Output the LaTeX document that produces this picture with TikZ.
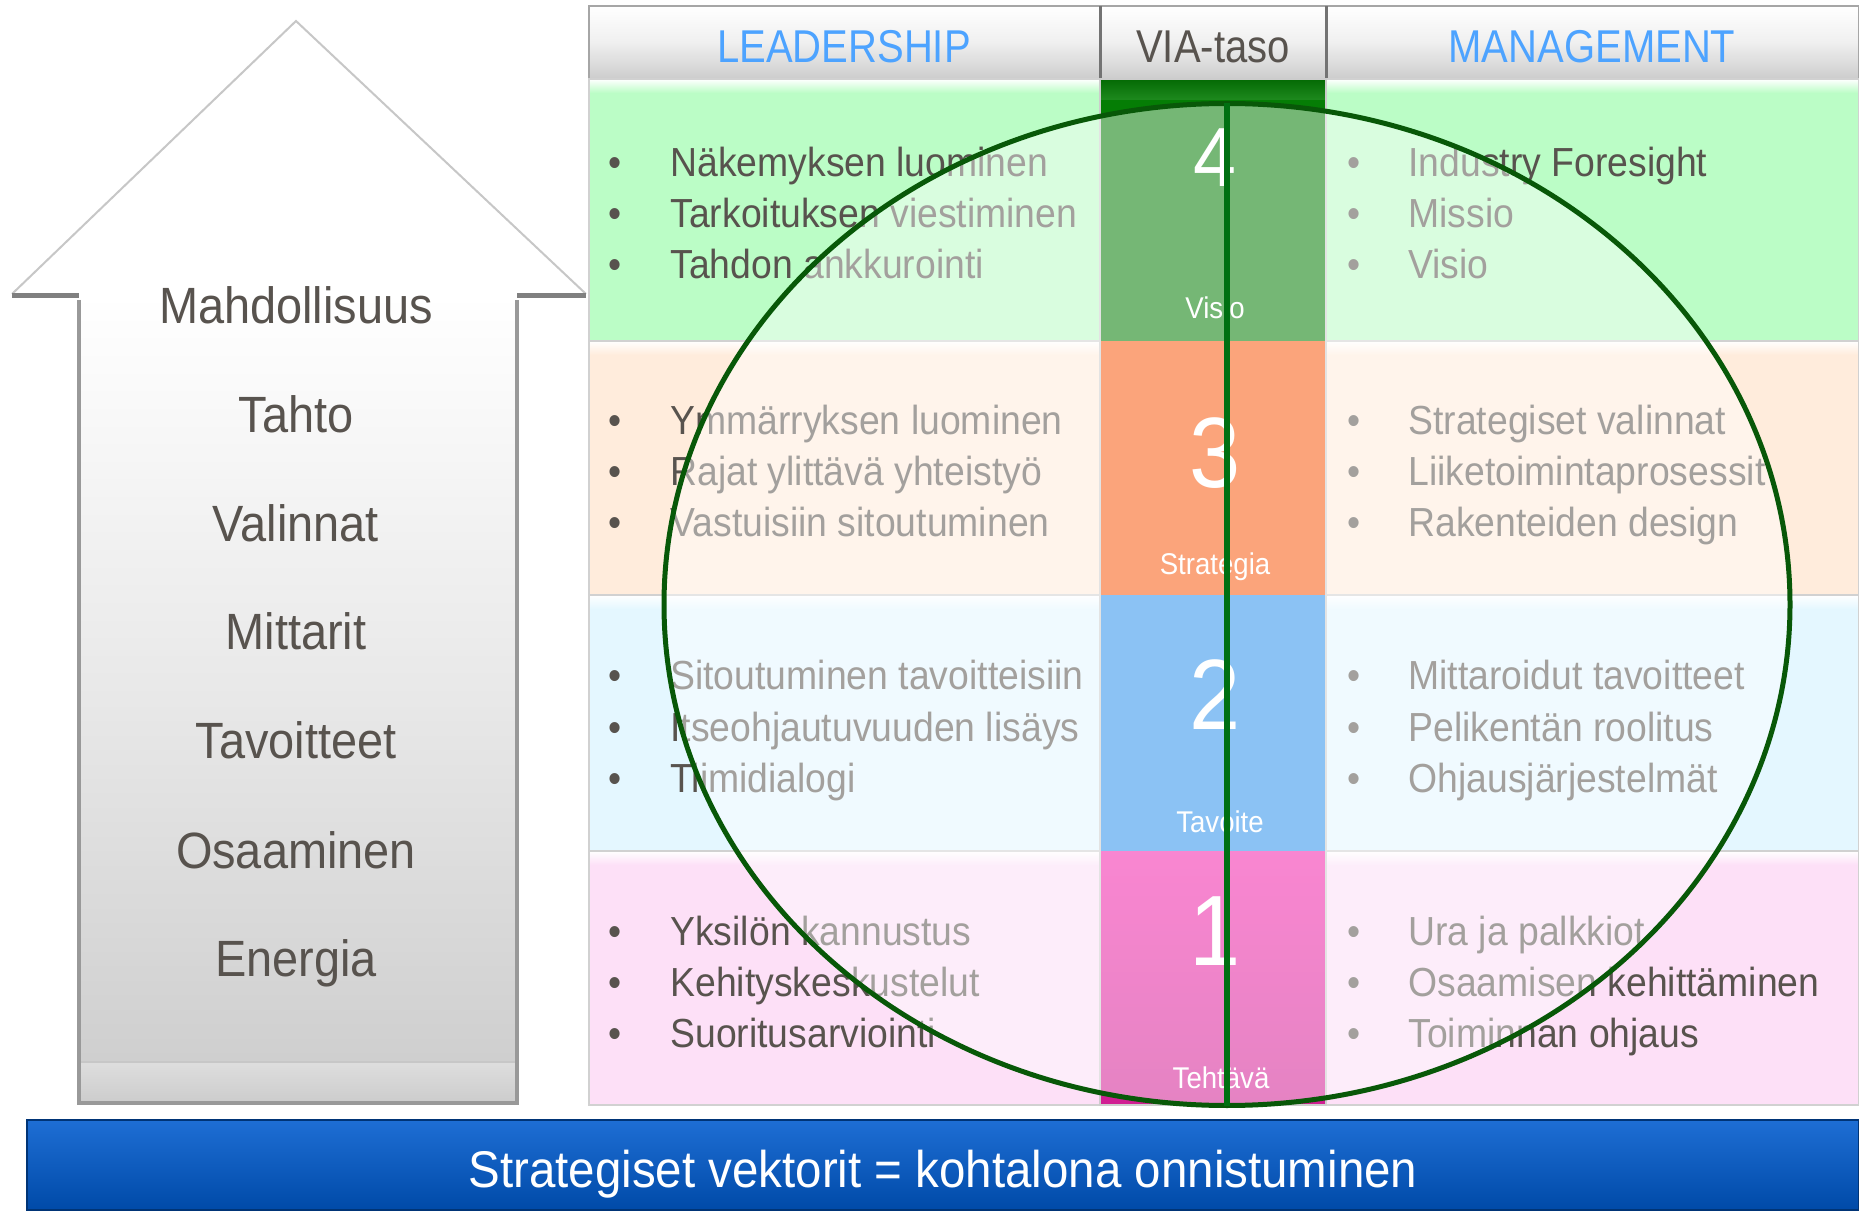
\documentclass[tikz,border=0pt]{standalone}
\usepackage{fontspec}
\setmainfont[FakeStretch=0.92]{Liberation Sans}
\newfontfamily\headfont[FakeStretch=0.87]{Liberation Sans}
\usetikzlibrary{shapes.geometric}
\definecolor{txt}{RGB}{88,83,78}
\definecolor{hblue}{RGB}{77,163,255}
\definecolor{cgreen}{RGB}{187,253,198}
\definecolor{corange}{RGB}{255,236,220}
\definecolor{cblue}{RGB}{228,247,255}
\definecolor{cpink}{RGB}{253,224,247}
\definecolor{vgreen}{RGB}{5,125,5}
\definecolor{vorange}{RGB}{248,90,15}
\definecolor{vblue}{RGB}{45,145,235}
\definecolor{vpink}{RGB}{245,35,172}
\definecolor{ellgreen}{RGB}{8,88,8}
\definecolor{linegreen}{RGB}{0,112,18}
\definecolor{barA}{RGB}{30,110,212}
\definecolor{barB}{RGB}{3,82,182}
\definecolor{barC}{RGB}{0,74,168}
\newcommand\drawcell[5]{%
  \fill[#5] (#1,#2) rectangle (#3,#4);
  \shade[top color=white, bottom color=#5] (#1,#2) rectangle (#3,#2+14);
  \draw[black!18, line width=1pt] (#1,#2) rectangle (#3,#4);
}
\tikzset{
  arrowlbl/.style={anchor=base, inner sep=0, text=txt, font=\fontsize{25.5}{30}\selectfont},
  listtxt/.style={anchor=base west, inner sep=0, text=txt, font=\fontsize{20.3}{24}\selectfont},
  bul/.style={anchor=base, inner sep=0, text=txt, font=\fontsize{20.3}{24}\selectfont},
  headtxt/.style={anchor=base, inner sep=0, font=\headfont\fontsize{23}{27}\selectfont},
  digit/.style={anchor=base, inner sep=0, text=white, font=\fontsize{50}{56}\selectfont},
  vialbl/.style={anchor=base, inner sep=0, text=white, font=\fontsize{15}{18}\selectfont},
}
\begin{document}
\begin{tikzpicture}[x=0.5pt,y=-0.5pt]
\useasboundingbox (0,0) rectangle (1859,1213);
\fill[white] (0,0) rectangle (1859,1213);

% ---------- big arrow ----------
\shade[top color=white, bottom color=black!20, middle color=black!9] (79,294) rectangle (517,1103);
\shade[top color=black!13, bottom color=black!20] (79,1062) rectangle (517,1103);
\draw[black!22, line width=1pt] (79,1062) -- (517,1062);
\draw[black!40, line width=2pt] (79,300) -- (79,1103) -- (517,1103) -- (517,300);
\fill[white] (12,294) -- (296,21) -- (586,294) -- cycle;
\draw[black!22, line width=1pt] (12,294) -- (296,21) -- (586,294);
\draw[black!50, line width=2.5pt] (12,296) -- (79,296);
\draw[black!50, line width=2.5pt] (517,296) -- (586,296);

\node[arrowlbl] (a1) at (296,324) {Mahdollisuus};
\node[arrowlbl] (a2) at (296,433) {Tahto};
\node[arrowlbl] (a3) at (296,542) {Valinnat};
\node[arrowlbl] (a4) at (296,650) {Mittarit};
\node[arrowlbl] (a5) at (296,759) {Tavoitteet};
\node[arrowlbl] (a6) at (296,868) {Osaaminen};
\node[arrowlbl] (a7) at (296,976) {Energia};

% ---------- headers ----------
\foreach \xa/\xb in {589/1100, 1100/1326, 1326/1859} {
  \shade[top color=white, bottom color=black!20, middle color=black!6] (\xa,6) rectangle (\xb,79);
  \draw[black!35, line width=1pt] (\xa,6) rectangle (\xb,79);
}
\draw[black!55, line width=1.5pt] (1100,6) -- (1100,79);
\draw[black!55, line width=1.5pt] (1326,6) -- (1326,79);
\node[headtxt, text=hblue] (hL) at (844,63) {LEADERSHIP};
\node[headtxt, text=txt] (hV) at (1213,63) {VIA-taso};
\node[headtxt, text=hblue] (hM) at (1592,63) {MANAGEMENT};

% ---------- cells ----------
\drawcell{589}{79}{1100}{341}{cgreen}
\drawcell{1326}{79}{1859}{341}{cgreen}
\drawcell{589}{341}{1100}{595}{corange}
\drawcell{1326}{341}{1859}{595}{corange}
\drawcell{589}{595}{1100}{851}{cblue}
\drawcell{1326}{595}{1859}{851}{cblue}
\drawcell{589}{851}{1100}{1105}{cpink}
\drawcell{1326}{851}{1859}{1105}{cpink}
% VIA column
\fill[vgreen] (1100,79) rectangle (1326,341);
\shade[top color=vgreen!85!black, bottom color=vgreen!90!white] (1100,79) rectangle (1326,100);
\fill[vorange] (1100,341) rectangle (1326,595);
\fill[vblue] (1100,595) rectangle (1326,851);
\shade[top color=vpink, bottom color=vpink!85!black] (1100,851) rectangle (1326,1105);
\draw[black!20, line width=1pt] (1100,79) rectangle (1326,1105);

% ---------- list texts ----------
\foreach \n/\y/\tl/\tr in {
  41/177/{Näkemyksen luominen}/{Industry Foresight},
  42/228/{Tarkoituksen viestiminen}/{Missio},
  43/279/{Tahdon ankkurointi}/{Visio},
  31/435/{Ymmärryksen luominen}/{Strategiset valinnat},
  32/486/{Rajat ylittävä yhteistyö}/{Liiketoimintaprosessit},
  33/537/{Vastuisiin sitoutuminen}/{Rakenteiden design},
  21/690/{Sitoutuminen tavoitteisiin}/{Mittaroidut tavoitteet},
  22/741/{Itseohjautuvuuden lisäys}/{Pelikentän roolitus},
  23/792/{Tiimidialogi}/{Ohjausjärjestelmät},
  11/945/{Yksilön kannustus}/{Ura ja palkkiot},
  12/996/{Kehityskeskustelut}/{Osaamisen kehittäminen},
  13/1047/{Suoritusarviointi}/{Toiminnan ohjaus}} {
  \node[bul] (bl\n) at (615,\y) {•};
  \node[listtxt] (tl\n) at (670,\y) {\tl};
  \node[bul] (br\n) at (1354,\y) {•};
  \node[listtxt] (tr\n) at (1408,\y) {\tr};
}

% ---------- VIA labels ----------
\node[digit, font=\fontsize{42}{46}\selectfont] (d4) at (1215,187) {4};
\node[digit] (d3) at (1215,488) {3};
\node[digit] (d2) at (1215,730) {2};
\node[digit] (d1) at (1215,965) {1};
\node[vialbl] (v4) at (1215,319) {Visio};
\node[vialbl] (v3) at (1215,575) {Strategia};
\node[vialbl] (v2) at (1220,833) {Tavoite};
\node[vialbl] (v1) at (1221,1088) {Tehtävä};

% ---------- ellipse overlay ----------
\node[ellipse, inner sep=0, outer sep=0, minimum width=563pt, minimum height=501pt,
      fill=white, fill opacity=0.45, draw=ellgreen, draw opacity=1, line width=2.5pt] (ell) at (1227,604.5) {};
\draw[linegreen, line width=3.2pt] (ell.north) -- (ell.south);

% ---------- bottom bar ----------
\node[rectangle, inner sep=0, minimum width=916pt, minimum height=45pt,
      top color=barA, middle color=barB, bottom color=barC, draw=barC!70!black, line width=1pt] (bar) at (943,1165) {};
\node[anchor=base, inner sep=0, text=white, font=\fontsize{25.8}{30}\selectfont] (bartxt) at (943,1187) {Strategiset vektorit = kohtalona onnistuminen};
\end{tikzpicture}
\end{document}
